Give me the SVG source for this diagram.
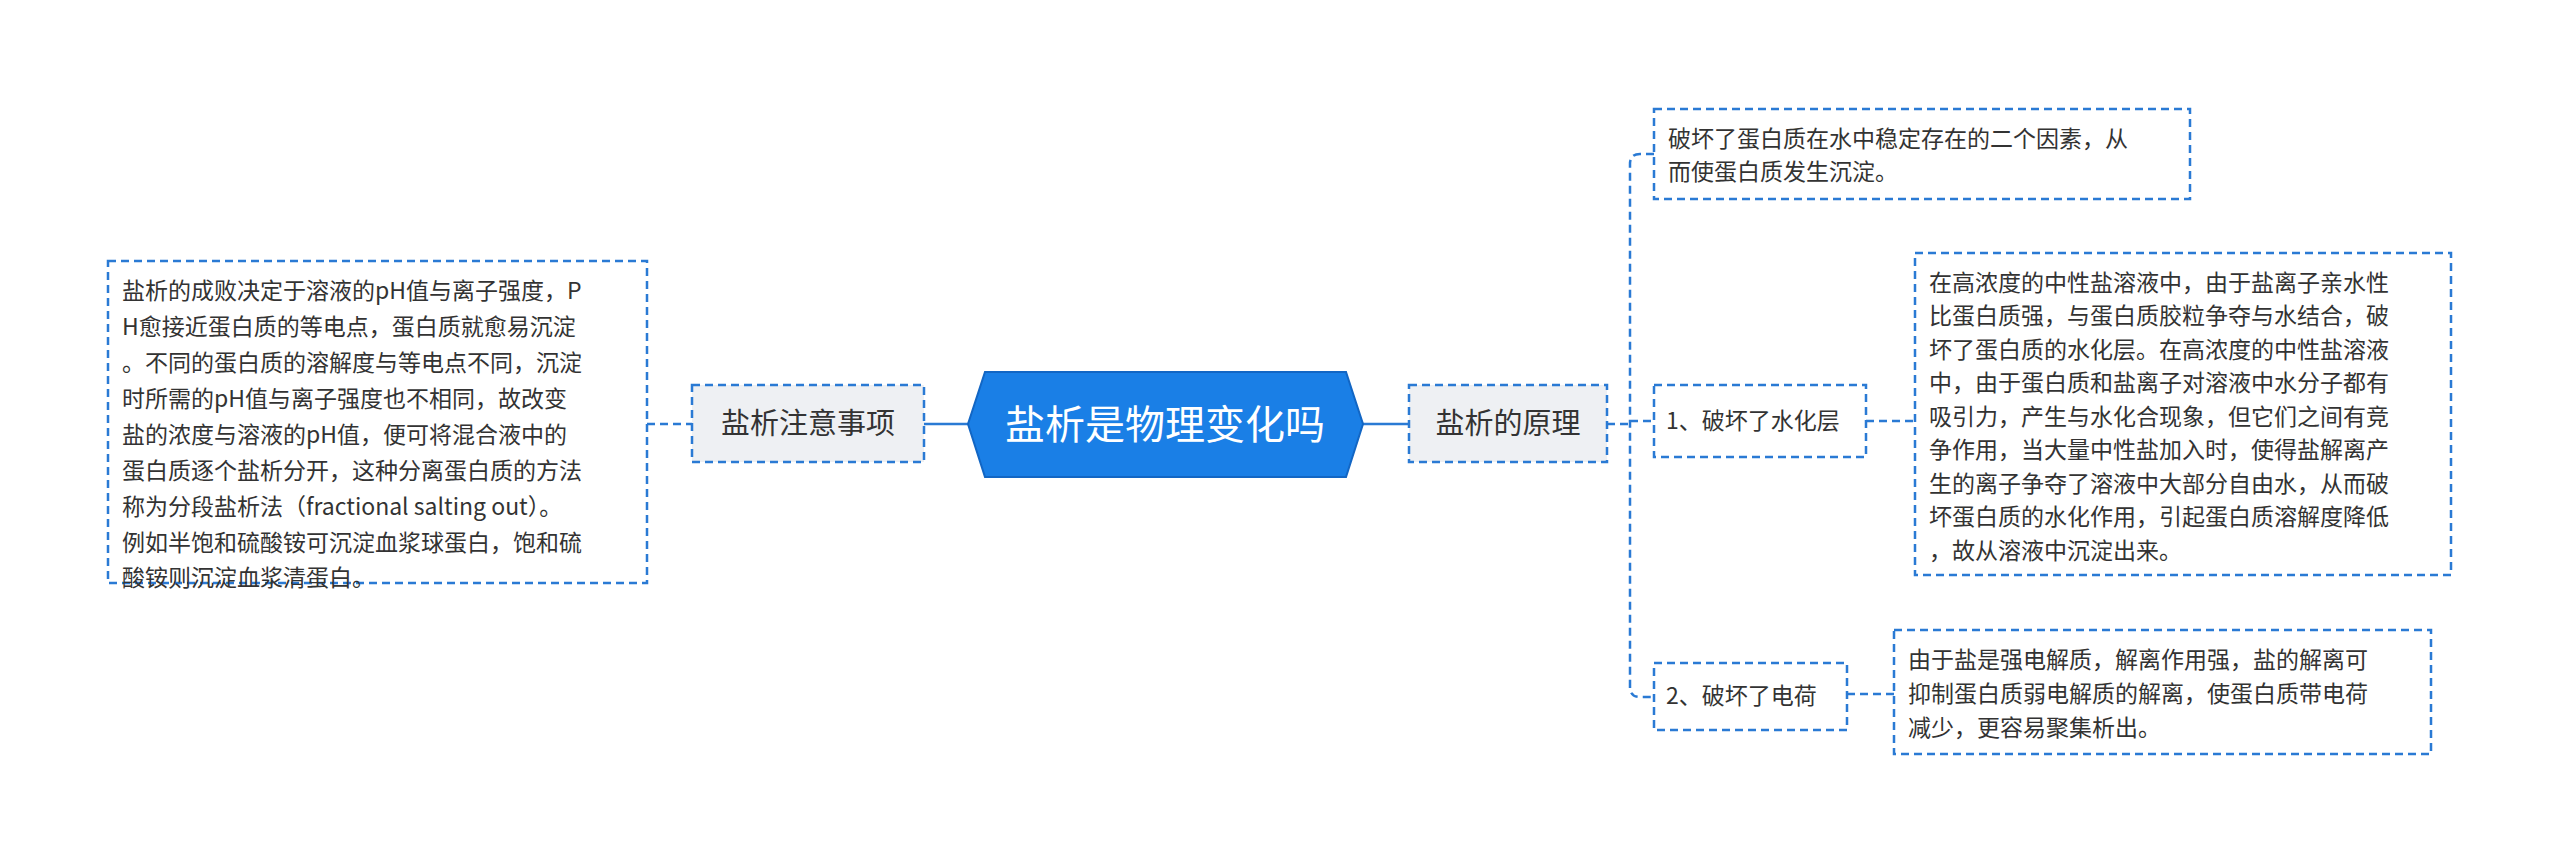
<svg xmlns="http://www.w3.org/2000/svg" width="2560" height="863" viewBox="0 0 2560 863">
<style>
.box{fill:#fff;stroke:#2a7ad4;stroke-width:2.5;stroke-dasharray:8 5}
.gbox{fill:#eef0f3;stroke:#2a7ad4;stroke-width:2.5;stroke-dasharray:8 5}
.t{font-family:"Noto Sans CJK SC","Liberation Sans",sans-serif;fill:#333}
.s{font-size:23px}
.m{font-size:29px}
.c{fill:none;stroke:#2a7ad4;stroke-width:2.5}
.d{stroke-dasharray:8 5}
</style>
<rect width="2560" height="863" fill="#fff"/>
<g id="connectors">
<line class="c" x1="924" y1="424" x2="968" y2="424" stroke-width="3"/>
<line class="c d" x1="647" y1="424" x2="692" y2="424"/>
<line class="c" x1="1363" y1="424" x2="1409" y2="424" stroke-width="3"/>
<path class="c d" d="M1607 424 H1630 M1654 154 H1640 Q1630 154 1630 164 V687 Q1630 697 1640 697 H1654 M1630 421 H1654"/>
<line class="c d" x1="1866" y1="421" x2="1915" y2="421"/>
<line class="c d" x1="1847" y1="694" x2="1894" y2="694"/>
</g>
<g id="center">
<polygon points="985,372 1346,372 1363,424 1346,477 985,477 968,424" fill="#1a7fe6" stroke="#1266c4" stroke-width="2"/>
<text class="t" x="1165" y="439" font-size="40" fill="#fff" style="fill:#fff" text-anchor="middle">盐析是物理变化吗</text>
</g>
<g id="left-topic">
<rect class="gbox" x="692" y="385" width="232" height="77"/>
<text class="t m" x="808" y="434" text-anchor="middle">盐析注意事项</text>
</g>
<g id="left-text">
<rect class="box" x="108" y="261" width="539" height="322"/>
<text class="t s"><tspan x="122" y="299">盐析的成败决定于溶液的pH值与离子强度，P</tspan><tspan x="122" y="335">H愈接近蛋白质的等电点，蛋白质就愈易沉淀</tspan><tspan x="122" y="371">。不同的蛋白质的溶解度与等电点不同，沉淀</tspan><tspan x="122" y="407">时所需的pH值与离子强度也不相同，故改变</tspan><tspan x="122" y="443">盐的浓度与溶液的pH值，便可将混合液中的</tspan><tspan x="122" y="479">蛋白质逐个盐析分开，这种分离蛋白质的方法</tspan><tspan x="122" y="515">称为分段盐析法（fractional salting out）。</tspan><tspan x="122" y="551">例如半饱和硫酸铵可沉淀血浆球蛋白，饱和硫</tspan><tspan x="122" y="587" dy="-1">酸铵则沉淀血浆清蛋白。</tspan></text>
</g>
<g id="right-topic">
<rect class="gbox" x="1409" y="385" width="198" height="77"/>
<text class="t m" x="1508" y="434" text-anchor="middle">盐析的原理</text>
</g>
<g id="leaf-top">
<rect class="box" x="1654" y="109" width="536" height="90"/>
<text class="t s"><tspan x="1668" y="147">破坏了蛋白质在水中稳定存在的二个因素，从</tspan><tspan x="1668" y="180">而使蛋白质发生沉淀。</tspan></text>
</g>
<g id="sub1">
<rect class="box" x="1654" y="385" width="212" height="72"/>
<text class="t s" x="1666" y="429">1、破坏了水化层</text>
</g>
<g id="leaf1">
<rect class="box" x="1915" y="253" width="536" height="322"/>
<text class="t s"><tspan x="1929" y="291">在高浓度的中性盐溶液中，由于盐离子亲水性</tspan><tspan x="1929" y="324">比蛋白质强，与蛋白质胶粒争夺与水结合，破</tspan><tspan x="1929" y="358">坏了蛋白质的水化层。在高浓度的中性盐溶液</tspan><tspan x="1929" y="391">中，由于蛋白质和盐离子对溶液中水分子都有</tspan><tspan x="1929" y="425">吸引力，产生与水化合现象，但它们之间有竞</tspan><tspan x="1929" y="458">争作用，当大量中性盐加入时，使得盐解离产</tspan><tspan x="1929" y="492">生的离子争夺了溶液中大部分自由水，从而破</tspan><tspan x="1929" y="525">坏蛋白质的水化作用，引起蛋白质溶解度降低</tspan><tspan x="1929" y="559">，故从溶液中沉淀出来。</tspan></text>
</g>
<g id="sub2">
<rect class="box" x="1654" y="663" width="193" height="67"/>
<text class="t s" x="1666" y="704">2、破坏了电荷</text>
</g>
<g id="leaf2">
<rect class="box" x="1894" y="630" width="537" height="124"/>
<text class="t s"><tspan x="1908" y="668">由于盐是强电解质，解离作用强，盐的解离可</tspan><tspan x="1908" y="702">抑制蛋白质弱电解质的解离，使蛋白质带电荷</tspan><tspan x="1908" y="736">减少，更容易聚集析出。</tspan></text>
</g>
</svg>
